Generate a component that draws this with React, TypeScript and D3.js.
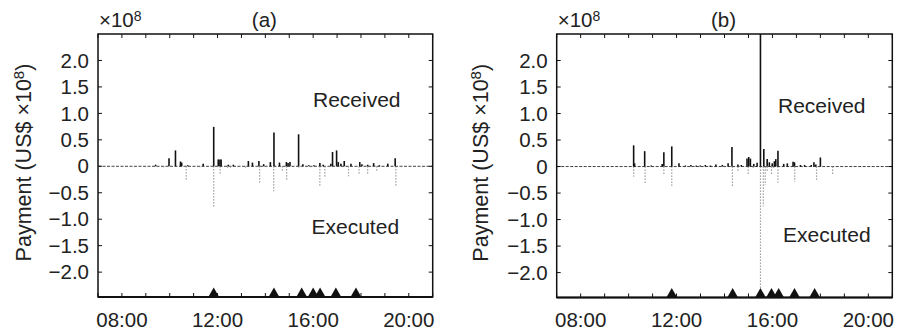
import React from "react";
import * as d3 from "d3";

// ---- data (hours of day, payment value in units of 1e8 US$) ----
const xTickHours = [8, 12, 16, 20];
const xTickLabels = ["08:00", "12:00", "16:00", "20:00"];
const yTickValues = [-2.0, -1.5, -1.0, -0.5, 0, 0.5, 1.0, 1.5, 2.0];
const yTickLabels = ["\u22122.0", "\u22121.5", "\u22121.0", "\u22120.5", "0", "0.5", "1.0", "1.5", "2.0"];

const markerHoursA = [11.84, 14.36, 15.52, 16.0, 16.29, 16.95, 17.79];
const markerHoursB = [11.8, 14.34, 15.5, 15.96, 16.26, 16.92, 17.76];

const receivedTimeA = [9.41, 9.97, 10.24, 10.45, 10.5, 10.75, 11.4, 11.84, 12.03, 12.1, 12.15, 12.45, 12.66, 13.29, 13.46, 13.73, 13.93, 14.21, 14.36, 14.59, 14.88, 14.95, 15.03, 15.39, 15.57, 15.82, 16.03, 16.28, 16.42, 16.74, 16.81, 16.98, 17.05, 17.16, 17.3, 17.58, 17.95, 18.04, 18.28, 18.53, 18.77, 19.12, 19.43];
const receivedValueA = [0.03, 0.15, 0.3, 0.09, 0.07, 0.02, 0.05, 0.745, 0.13, 0.13, 0.13, 0.03, 0.03, 0.1, 0.07, 0.1, 0.04, 0.08, 0.64, 0.07, 0.08, 0.06, 0.08, 0.605, 0.04, 0.02, 0.02, 0.06, 0.03, 0.05, 0.27, 0.3, 0.08, 0.05, 0.1, 0.05, 0.08, 0.04, 0.03, 0.06, 0.02, 0.05, 0.15];
const executedTimeA = [9.75, 10.69, 11.26, 11.84, 12.11, 12.42, 12.54, 13.17, 13.76, 14.35, 14.71, 14.89, 15.4, 15.9, 16.28, 16.49, 17.48, 17.92, 18.28, 18.66, 19.46];
const executedValueA = [-0.02, -0.265, -0.02, -0.77, -0.16, -0.05, -0.04, -0.03, -0.315, -0.47, -0.09, -0.25, -0.03, -0.02, -0.365, -0.2, -0.19, -0.16, -0.15, -0.09, -0.38];

const receivedTimeB = [10.21, 10.25, 10.67, 10.94, 11.4, 11.47, 11.8, 12.1, 12.37, 12.6, 12.82, 12.99, 13.2, 13.41, 13.64, 13.91, 14.15, 14.31, 14.56, 14.7, 14.94, 15.01, 15.08, 15.22, 15.36, 15.5, 15.64, 15.78, 15.87, 15.99, 16.08, 16.14, 16.23, 16.47, 16.62, 16.86, 16.92, 17.17, 17.34, 17.62, 17.73, 17.81, 18.0];
const receivedValueB = [0.4, 0.06, 0.29, 0.02, 0.05, 0.27, 0.38, 0.06, 0.02, 0.03, 0.02, 0.02, 0.03, 0.02, 0.04, 0.03, 0.06, 0.37, 0.04, 0.03, 0.15, 0.18, 0.15, 0.05, 0.07, 2.6, 0.33, 0.14, 0.08, 0.06, 0.1, 0.14, 0.3, 0.05, 0.06, 0.09, 0.08, 0.03, 0.03, 0.03, 0.08, 0.04, 0.17];
const executedTimeB = [10.21, 10.69, 11.47, 11.8, 14.33, 14.56, 14.99, 15.2, 15.5, 15.62, 15.7, 15.78, 15.96, 16.05, 16.23, 16.93, 17.84, 18.51];
const executedValueB = [-0.19, -0.31, -0.14, -0.38, -0.37, -0.08, -0.15, -0.05, -2.6, -0.75, -0.35, -0.1, -0.15, -0.05, -0.3, -0.29, -0.28, -0.16];

const FONT = "'Liberation Sans', Arial, Helvetica, sans-serif";
const TEXT = "#222";

type PanelProps = {
  left: number;
  right: number;
  top: number;
  bottom: number;
  title: string;
  ylabelX: number;
  receivedY: number;
  executedY: number;
  receivedX: number;
  executedX: number;
  recT: number[];
  recV: number[];
  exeT: number[];
  exeV: number[];
  markers: number[];
};

function Panel(p: PanelProps) {
  const x = d3.scaleLinear().domain([7, 21]).range([p.left, p.right]);
  const y = d3.scaleLinear().domain([-2.47, 2.5]).range([p.bottom, p.top]).clamp(true);
  const hourTicks = d3.range(7, 22, 1);
  const tri = d3.symbol().type(d3.symbolTriangle).size(48);
  const midY = (p.top + p.bottom) / 2;
  return (
    <g>
      {/* zero line */}
      <line x1={p.left} x2={p.right} y1={y(0)} y2={y(0)} stroke="#444" strokeWidth={1} strokeDasharray="3,1.5" />
      {/* executed (dotted grey) */}
      {p.exeT.map((t, i) => (
        <line key={"e" + i} x1={x(t)} x2={x(t)} y1={y(0)} y2={y(p.exeV[i])} stroke="#8a8a8a" strokeWidth={1.2} strokeDasharray="1.3,1.7" />
      ))}
      {/* received (solid black) */}
      {p.recT.map((t, i) => (
        <line key={"r" + i} x1={x(t)} x2={x(t)} y1={y(0)} y2={y(p.recV[i])} stroke="#111" strokeWidth={1.6} />
      ))}
      {/* frame */}
      <rect x={p.left} y={p.top} width={p.right - p.left} height={p.bottom - p.top} fill="none" stroke="#111" strokeWidth={1.5} />
      <line x1={p.left} x2={p.right} y1={p.bottom} y2={p.bottom} stroke="#111" strokeWidth={2} />
      {/* x ticks top and bottom */}
      {hourTicks.map((h) => (
        <g key={"xt" + h}>
          <line x1={x(h)} x2={x(h)} y1={p.bottom} y2={p.bottom - 4} stroke="#111" strokeWidth={1} />
          <line x1={x(h)} x2={x(h)} y1={p.top} y2={p.top + 4} stroke="#111" strokeWidth={1} />
        </g>
      ))}
      {/* y ticks left and right */}
      {yTickValues.map((v) => (
        <g key={"yt" + v}>
          <line x1={p.left} x2={p.left + 4} y1={y(v)} y2={y(v)} stroke="#111" strokeWidth={1} />
          <line x1={p.right} x2={p.right - 4} y1={y(v)} y2={y(v)} stroke="#111" strokeWidth={1} />
        </g>
      ))}
      {/* y tick labels */}
      {yTickValues.map((v, i) => (
        <text key={"yl" + v} x={p.left - 9} y={y(v)} dy="0.35em" textAnchor="end" fontSize={20.5} fontFamily={FONT} fill={TEXT}>
          {yTickLabels[i]}
        </text>
      ))}
      {/* x tick labels */}
      {xTickHours.map((h, i) => (
        <text key={"xl" + h} x={x(h)} y={327} textAnchor="middle" fontSize={20.5} fontFamily={FONT} fill={TEXT}>
          {xTickLabels[i]}
        </text>
      ))}
      {/* markers */}
      {p.markers.map((h, i) => (
        <path key={"m" + i} d={tri() as string} transform={`translate(${x(h)},${p.bottom - 3.3})`} fill="#111" />
      ))}
      {/* multiplier and title */}
      <text x={p.left + 1} y={27} fontSize={20.5} fontFamily={FONT} fill={TEXT}>
        ×10<tspan fontSize={14} dy={-6}>8</tspan>
      </text>
      <text x={(p.left + p.right) / 2 - 1} y={27} textAnchor="middle" fontSize={20.5} fontFamily={FONT} fill={TEXT}>
        {p.title}
      </text>
      {/* annotations */}
      <text x={p.receivedX} y={p.receivedY} fontSize={21} fontFamily={FONT} fill={TEXT}>Received</text>
      <text x={p.executedX} y={p.executedY} fontSize={21} fontFamily={FONT} fill={TEXT}>Executed</text>
      {/* y label */}
      <text transform={`translate(${p.ylabelX},${midY - 3}) rotate(-90)`} textAnchor="middle" fontSize={21.5} fontFamily={FONT} fill={TEXT}>
        Payment (US$ ×10<tspan fontSize={15} dy={-7}>8</tspan><tspan dy={7}>)</tspan>
      </text>
    </g>
  );
}

export default function App() {
  return (
    <svg width={897} height={331} style={{ position: "absolute", left: 0, top: 0, background: "#fff" }}>
      <rect width={897} height={331} fill="#fff" />
      <Panel left={98} right={432.7} top={34} bottom={297} title="(a)" ylabelX={31} receivedX={313} receivedY={107} executedX={311.5} executedY={234}
        recT={receivedTimeA} recV={receivedValueA} exeT={executedTimeA} exeV={executedValueA} markers={markerHoursA} />
      <Panel left={556.7} right={892.3} top={34} bottom={297.5} title="(b)" ylabelX={488} receivedX={778} receivedY={113} executedX={783} executedY={241.5}
        recT={receivedTimeB} recV={receivedValueB} exeT={executedTimeB} exeV={executedValueB} markers={markerHoursB} />
    </svg>
  );
}
